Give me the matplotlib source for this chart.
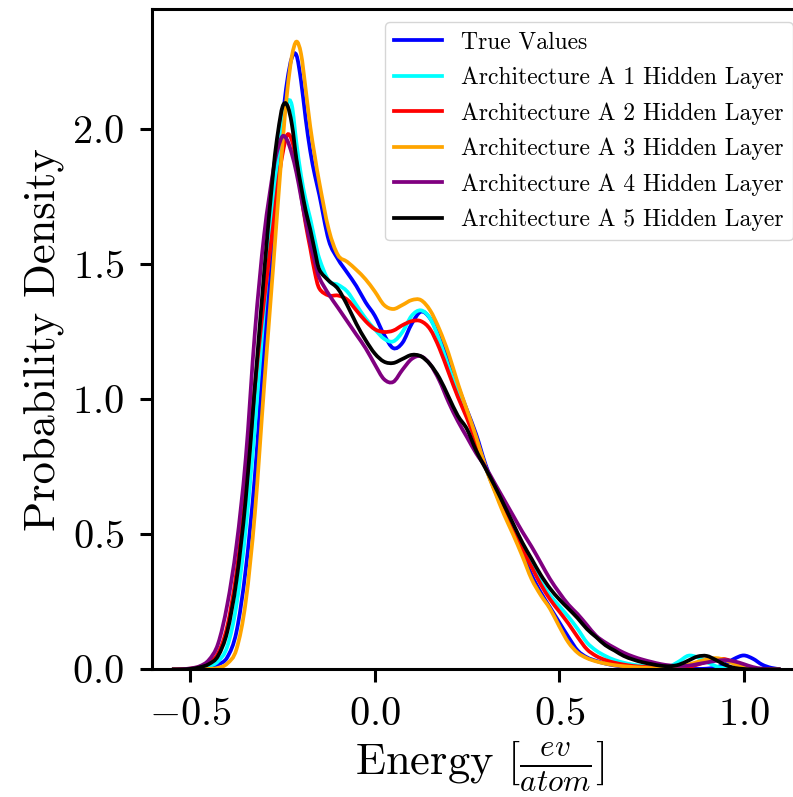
import numpy as np
import matplotlib
matplotlib.use("Agg")
import matplotlib.pyplot as plt
from matplotlib.path import Path
from matplotlib.patches import PathPatch
from matplotlib.lines import Line2D

# ======================================================
# Setup
# ======================================================

plt.rcParams["font.family"] = "serif"
plt.rcParams["font.serif"] = ["cmr10"]
plt.rcParams["mathtext.fontset"] = "cm"
plt.rcParams["axes.formatter.use_mathtext"] = True

LINE_WIDTH = 2.7

# ======================================================
# KDE curves (energy grid in eV/atom, density values)
# ======================================================

ENERGY = [
    -0.55, -0.525, -0.5, -0.475, -0.45, -0.425, -0.4, -0.375, -0.35, -0.325, -0.3,
    -0.275, -0.2625, -0.25, -0.2375, -0.225, -0.2125, -0.2, -0.1875, -0.175, -0.1625, -0.15,
    -0.125, -0.1, -0.075, -0.05, -0.025, 0.0, 0.025, 0.05, 0.075, 0.1,
    0.125, 0.15, 0.175, 0.2, 0.225, 0.25, 0.275, 0.3, 0.325, 0.35,
    0.375, 0.4, 0.425, 0.45, 0.475, 0.5, 0.525, 0.55, 0.575, 0.6,
    0.625, 0.65, 0.675, 0.7, 0.725, 0.75, 0.775, 0.8, 0.825, 0.85,
    0.875, 0.9, 0.925, 0.95, 0.975, 1.0, 1.025, 1.05, 1.075, 1.1,
]

true_values = [
    0, 0, 0, 0.002, 0.006, 0.018, 0.045, 0.14, 0.37, 0.72, 1.20,
    1.62, 1.85, 2.04, 2.18, 2.265, 2.275, 2.18, 2.04, 1.92, 1.83, 1.755,
    1.59, 1.52, 1.47, 1.42, 1.36, 1.31, 1.24, 1.19, 1.21, 1.28,
    1.325, 1.30, 1.23, 1.14, 1.05, 0.96, 0.87, 0.76, 0.67, 0.59,
    0.51, 0.43, 0.35, 0.285, 0.23, 0.175, 0.12, 0.07, 0.045, 0.032,
    0.022, 0.015, 0.01, 0.007, 0.005, 0.003, 0.002, 0.002, 0.002, 0.002,
    0.002, 0.003, 0.008, 0.02, 0.04, 0.052, 0.04, 0.018, 0.006, 0.001,
]

arch_1_layer = [
    0, 0, 0.001, 0.004, 0.012, 0.03, 0.085, 0.24, 0.52, 0.90, 1.34,
    1.72, 1.90, 2.02, 2.10, 2.09, 1.95, 1.83, 1.74, 1.67, 1.59, 1.52,
    1.44, 1.425, 1.40, 1.35, 1.30, 1.26, 1.225, 1.215, 1.25, 1.31,
    1.33, 1.30, 1.22, 1.12, 1.03, 0.94, 0.85, 0.75, 0.665, 0.59,
    0.52, 0.455, 0.39, 0.325, 0.275, 0.235, 0.195, 0.15, 0.10, 0.07,
    0.05, 0.035, 0.025, 0.018, 0.013, 0.01, 0.01, 0.012, 0.03, 0.051,
    0.045, 0.028, 0.012, 0.004, 0.001, 0, 0, 0, 0, 0,
]

arch_2_layers = [
    0, 0.001, 0.003, 0.01, 0.025, 0.06, 0.16, 0.36, 0.66, 1.05, 1.37,
    1.65, 1.80, 1.91, 1.98, 1.96, 1.88, 1.76, 1.65, 1.56, 1.47, 1.41,
    1.385, 1.385, 1.37, 1.33, 1.29, 1.26, 1.25, 1.255, 1.275, 1.29,
    1.29, 1.26, 1.19, 1.10, 1.01, 0.93, 0.84, 0.75, 0.665, 0.585,
    0.51, 0.445, 0.38, 0.315, 0.26, 0.215, 0.17, 0.12, 0.075, 0.05,
    0.035, 0.025, 0.018, 0.013, 0.01, 0.008, 0.006, 0.006, 0.007, 0.01,
    0.018, 0.03, 0.038, 0.038, 0.025, 0.01, 0.003, 0.001, 0, 0,
]

arch_3_layers = [
    0, 0, 0, 0.001, 0.002, 0.006, 0.022, 0.075, 0.25, 0.58, 1.05,
    1.50, 1.73, 1.95, 2.14, 2.27, 2.325, 2.28, 2.15, 2.01, 1.90, 1.80,
    1.63, 1.535, 1.51, 1.48, 1.445, 1.40, 1.35, 1.335, 1.35, 1.368,
    1.368, 1.33, 1.26, 1.17, 1.06, 0.96, 0.86, 0.75, 0.66, 0.575,
    0.50, 0.42, 0.335, 0.275, 0.225, 0.16, 0.10, 0.062, 0.042, 0.03,
    0.022, 0.016, 0.012, 0.009, 0.007, 0.005, 0.005, 0.006, 0.01, 0.018,
    0.028, 0.037, 0.042, 0.035, 0.02, 0.008, 0.003, 0.001, 0, 0,
]

arch_4_layers = [
    0, 0.001, 0.004, 0.012, 0.035, 0.095, 0.24, 0.46, 0.78, 1.25, 1.61,
    1.85, 1.93, 1.975, 1.96, 1.91, 1.84, 1.75, 1.66, 1.58, 1.51, 1.45,
    1.39, 1.34, 1.29, 1.24, 1.19, 1.13, 1.075, 1.065, 1.11, 1.15,
    1.16, 1.13, 1.07, 0.99, 0.92, 0.86, 0.80, 0.75, 0.69, 0.63,
    0.57, 0.51, 0.455, 0.395, 0.335, 0.285, 0.24, 0.205, 0.165, 0.125,
    0.10, 0.08, 0.062, 0.048, 0.037, 0.028, 0.02, 0.015, 0.013, 0.014,
    0.02, 0.026, 0.032, 0.035, 0.03, 0.02, 0.009, 0.003, 0.001, 0,
]

arch_5_layers = [
    0, 0, 0.002, 0.008, 0.02, 0.05, 0.14, 0.33, 0.63, 1.05, 1.47,
    1.85, 1.99, 2.085, 2.09, 2.02, 1.89, 1.79, 1.70, 1.63, 1.55, 1.48,
    1.44, 1.41, 1.35, 1.28, 1.22, 1.17, 1.14, 1.135, 1.15, 1.165,
    1.16, 1.13, 1.08, 1.01, 0.94, 0.89, 0.81, 0.745, 0.68, 0.61,
    0.54, 0.47, 0.41, 0.35, 0.30, 0.26, 0.225, 0.19, 0.15, 0.12,
    0.09, 0.07, 0.05, 0.037, 0.027, 0.02, 0.014, 0.012, 0.018, 0.033,
    0.048, 0.05, 0.035, 0.017, 0.006, 0.002, 0, 0, 0, 0,
]

SERIES = [
    ("True Values", true_values, "blue"),
    ("Architecture A 1 Hidden Layer", arch_1_layer, "cyan"),
    ("Architecture A 2 Hidden Layer", arch_2_layers, "red"),
    ("Architecture A 3 Hidden Layer", arch_3_layers, "orange"),
    ("Architecture A 4 Hidden Layer", arch_4_layers, "purple"),
    ("Architecture A 5 Hidden Layer", arch_5_layers, "black"),
]


def smooth_path(x, y):
    """Cubic Bezier path passing through every (x, y) sample."""
    pts = np.column_stack([x, y]).astype(float)
    ext = np.vstack([pts[0], pts, pts[-1]])
    verts = [pts[0]]
    codes = [Path.MOVETO]
    for i in range(len(pts) - 1):
        p0, p1, p2, p3 = ext[i], ext[i + 1], ext[i + 2], ext[i + 3]
        verts += [p1 + (p2 - p0) / 6, p2 - (p3 - p1) / 6, p2]
        codes += [Path.CURVE4] * 3
    return Path(verts, codes)


# ======================================================
# PLOT
# ======================================================

fig = plt.figure(figsize=(7.93, 7.97), dpi=100)
ax = fig.add_axes([0.1917, 0.16, 0.827, 0.8287])

handles = []
for label, values, color in SERIES:
    ax.add_patch(
        PathPatch(
            smooth_path(ENERGY, values),
            facecolor="none",
            edgecolor=color,
            linewidth=LINE_WIDTH,
            zorder=2,
        )
    )
    handles.append(Line2D([], [], color=color, linewidth=LINE_WIDTH, label=label))

ax.set_xlim(-0.604, 1.174)
ax.set_ylim(0, 2.446)
ax.set_xticks([-0.5, 0.0, 0.5, 1.0])
ax.set_yticks([0.0, 0.5, 1.0, 1.5, 2.0])

for spine in ax.spines.values():
    spine.set_linewidth(2.2)

ax.tick_params(width=2.2, length=9, pad=11, labelsize=29)

ax.set_xlabel(r"Energy $[\frac{ev}{atom}]$", fontsize=32)
ax.set_ylabel("Probability Density", fontsize=32, labelpad=6)

ax.legend(
    handles=handles,
    loc="upper left",
    bbox_to_anchor=(385 / 793, 1 - 22 / 797),
    bbox_transform=fig.transFigure,
    borderaxespad=0,
    fontsize=17.0,
    labelspacing=0.55,
)

fig.savefig("out.png", dpi=100)
